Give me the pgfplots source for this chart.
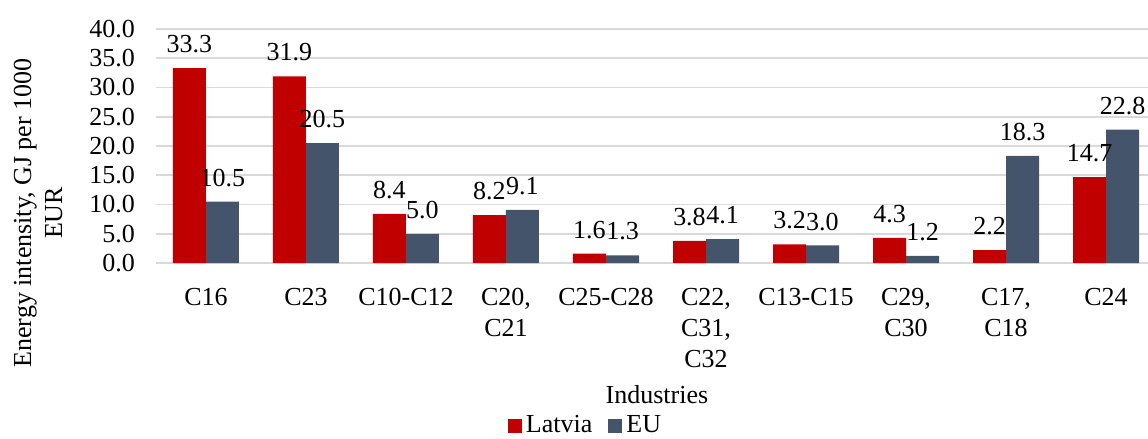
\documentclass[border=0pt]{standalone}
\usepackage{fontspec}
\setmainfont{Liberation Serif}
\usepackage{pgfplots}
\pgfplotsset{compat=1.18}
\usetikzlibrary{calc}
\definecolor{LvRed}{RGB}{192,0,0}
\definecolor{EuSlate}{RGB}{68,84,106}
\definecolor{GridGray}{RGB}{217,217,217}
\newcommand{\chartfont}{\fontsize{13}{15.5}\selectfont}
\begin{document}
\begin{tikzpicture}
\begin{axis}[
  name=ax,
  scale only axis, width=496pt, height=117pt,
  ybar=0pt, bar width=16.5pt,
  xmin=-0.5, xmax=9.42, ymin=0, ymax=40,
  xtick=data,
  xticklabels={C16, C23, C10-C12, {C20,\\C21}, C25-C28, {C22,\\C31,\\C32}, C13-C15, {C29,\\C30}, {C17,\\C18}, C24},
  ytick={0,5,...,40},
  /pgf/number format/assume math mode=true,
  yticklabel={\pgfmathprintnumber[fixed,fixed zerofill,precision=1]{\tick}},
  tick style={draw=none},
  axis line style={draw=none},
  ymajorgrids, grid style={GridGray, line width=0.8pt},
  ticklabel style={font=\chartfont},
  x tick label style={align=center, yshift=-5pt},
  y tick label style={xshift=-7pt},
  xlabel={Industries},
  xlabel style={font=\chartfont, at={(rel axis cs:0.505,-0.564)}, anchor=center},
  ylabel={Energy intensity, GJ per 1000\\EUR},
  ylabel style={font=\chartfont, align=center, at={(rel axis cs:0,0.214)}, yshift=59pt, anchor=center},
  nodes near coords={\pgfmathprintnumber[fixed,fixed zerofill,precision=1]{\pgfplotspointmeta}},
  every node near coord/.append style={font=\chartfont, yshift=4pt},
  legend columns=2,
  legend style={draw=none, font=\chartfont, at={(rel axis cs:0.434,-0.695)}, anchor=center, inner sep=1pt,
    /tikz/every even column/.append style={column sep=6pt}},
  legend image code/.code={\fill[#1] (0pt,-3.5pt) rectangle (7pt,3.5pt);},
]
\addplot[fill=LvRed, draw=none] coordinates {(0,33.3) (1,31.9) (2,8.4) (3,8.2) (4,1.6) (5,3.8) (6,3.2) (7,4.3) (8,2.2) (9,14.7)};
\addplot[fill=EuSlate, draw=none] coordinates {(0,10.5) (1,20.5) (2,5.0) (3,9.1) (4,1.3) (5,4.1) (6,3.0) (7,1.2) (8,18.3) (9,22.8)};
\legend{Latvia, EU}
\end{axis}
\pgfresetboundingbox
\path ($(ax.south west)+(-78pt,-88pt)$) rectangle ($(ax.north east)+(0,14.5pt)$);
\end{tikzpicture}
\end{document}
